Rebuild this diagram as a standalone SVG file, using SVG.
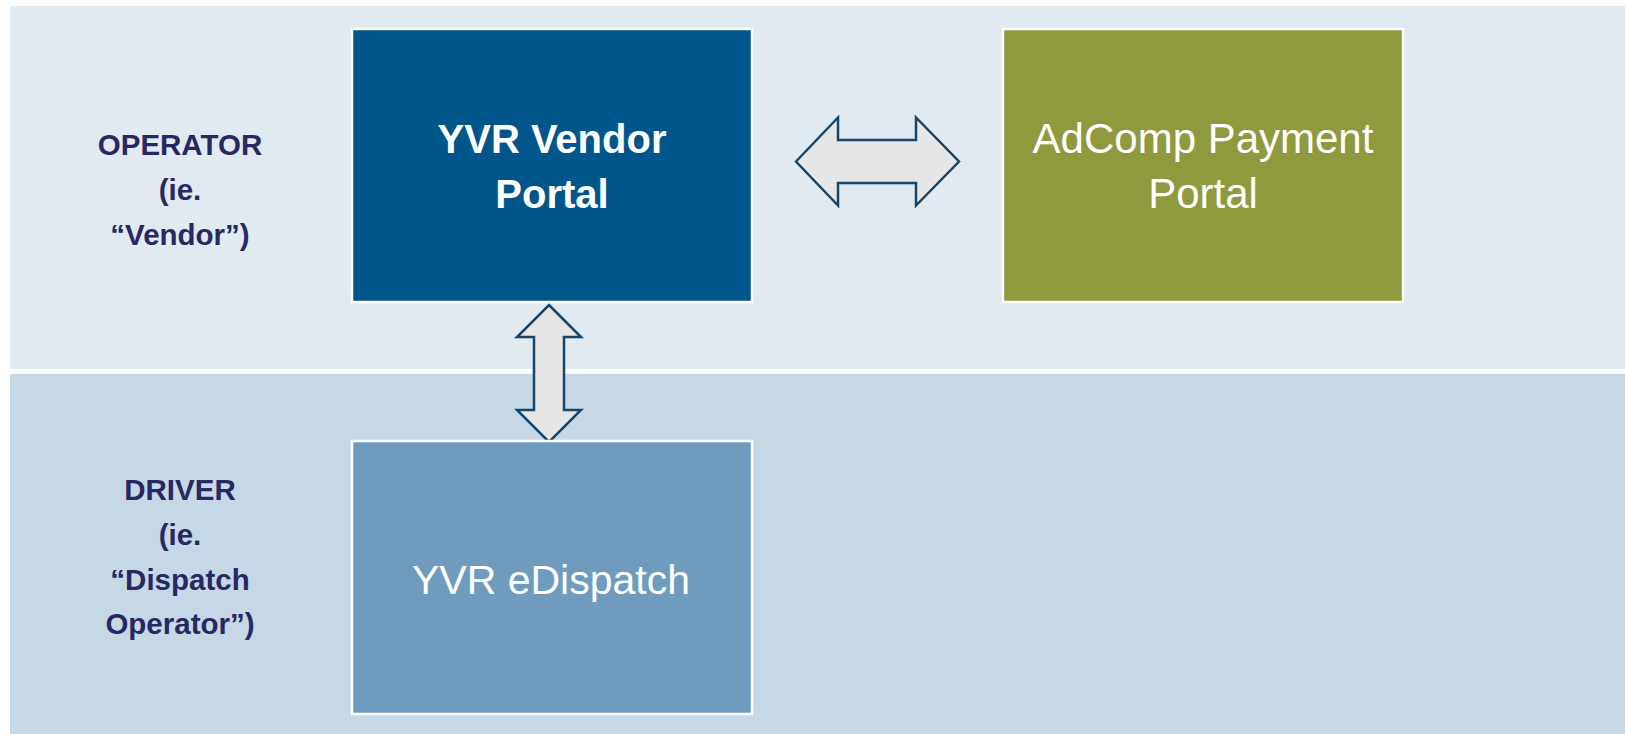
<svg xmlns="http://www.w3.org/2000/svg" width="1625" height="734" viewBox="0 0 1625 734">
<style>
.band-top{fill:#e1e9f1}
.band-bot{fill:#c6d8e6}
.box{stroke:#ffffff;stroke-width:2.5}
.lbl{font-family:"Liberation Sans",Arial,sans-serif;font-weight:bold;font-size:29.5px;fill:#282862;text-anchor:middle}
.bt{font-family:"Liberation Sans",Arial,sans-serif;fill:#ffffff;text-anchor:middle}
.arrow{fill:#e6e6e6;stroke:#16466b;stroke-width:2.5;stroke-linejoin:miter}
</style>
<rect width="1625" height="734" fill="#ffffff"/>
<g id="lanes">
<rect class="band-top" x="10" y="6" width="1615" height="363"/>
<rect class="band-bot" x="10" y="374" width="1615" height="360"/>
<text class="lbl" x="180" y="155">OPERATOR</text>
<text class="lbl" x="180" y="200">(ie.</text>
<text class="lbl" x="180" y="245">“Vendor”)</text>
<text class="lbl" x="180" y="500">DRIVER</text>
<text class="lbl" x="180" y="545">(ie.</text>
<text class="lbl" x="180" y="590">“Dispatch</text>
<text class="lbl" x="180" y="634">Operator”)</text>
</g>
<g id="connectors">
<path class="arrow" d="M796,161.5 L838,117.5 L838,140 L916,140 L916,117.5 L959,161.5 L916,205.5 L916,183 L838,183 L838,205.5 Z"/>
<path class="arrow" d="M549,305 L581,337 L564,337 L564,410 L581,410 L549,442 L517,410 L534,410 L534,337 L517,337 Z"/>
</g>
<g id="vendor-portal">
<rect class="box" x="352" y="29" width="400" height="273" fill="#00568a"/>
<text class="bt" x="552" y="153" font-size="40" font-weight="bold">YVR Vendor</text>
<text class="bt" x="552" y="207.5" font-size="40" font-weight="bold">Portal</text>
</g>
<g id="adcomp-portal">
<rect class="box" x="1003" y="29" width="400" height="273" fill="#8f993d"/>
<text class="bt" x="1203" y="153" font-size="42">AdComp Payment</text>
<text class="bt" x="1203" y="207.5" font-size="42">Portal</text>
</g>
<g id="edispatch">
<rect class="box" x="352" y="441" width="400" height="273" fill="#6f9bbf"/>
<text class="bt" x="551" y="593.5" font-size="41">YVR eDispatch</text>
</g>
</svg>
